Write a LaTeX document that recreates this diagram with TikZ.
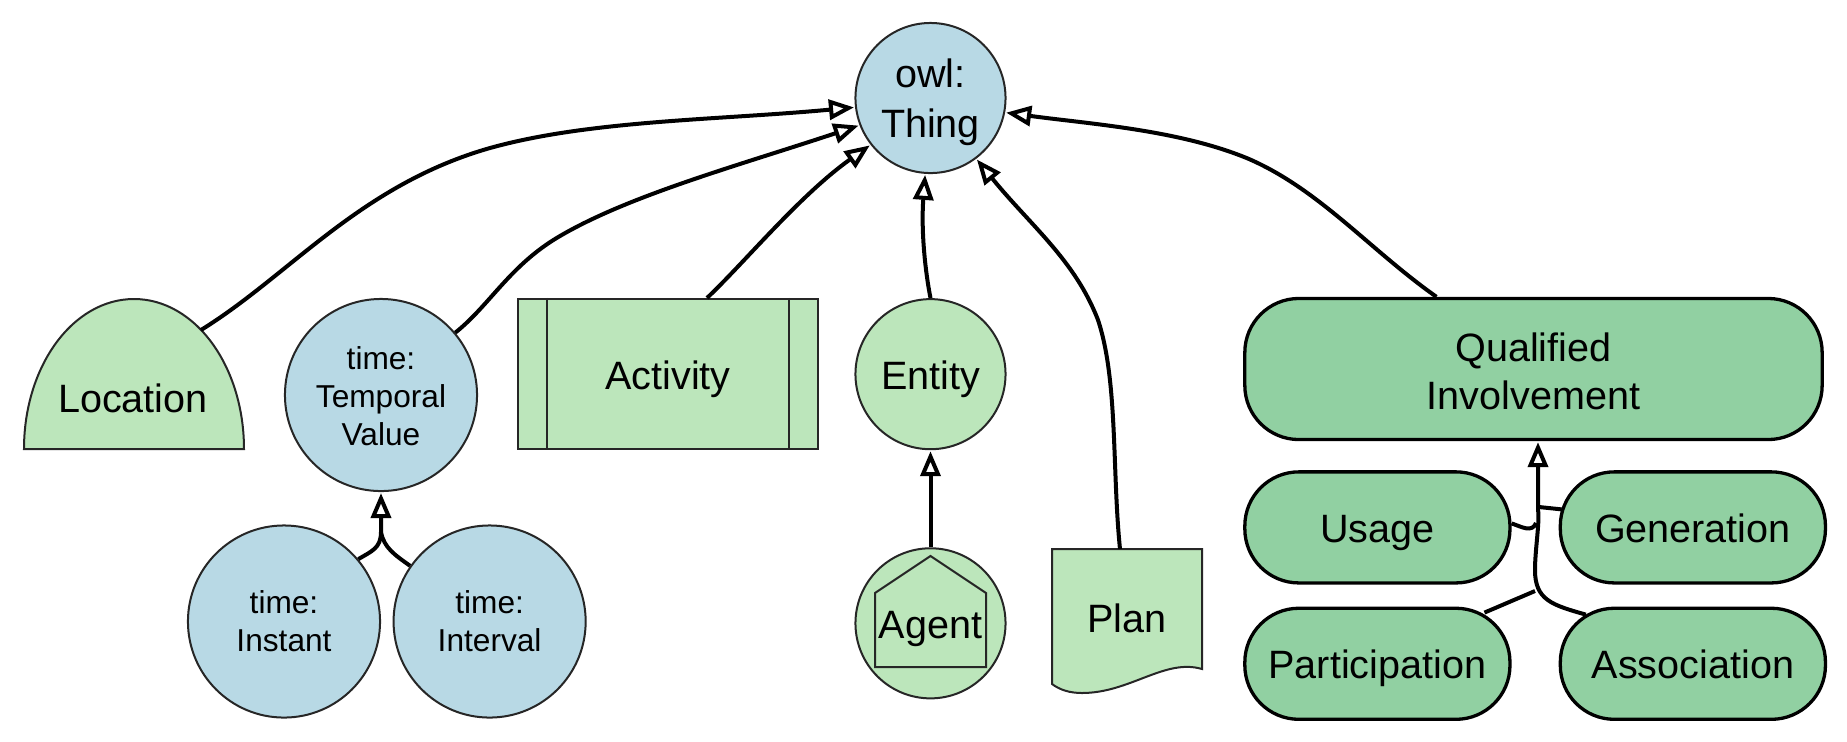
\documentclass[tikz,border=0pt]{standalone}
\usepackage{fontspec}
\setmainfont{Liberation Sans}
\usetikzlibrary{arrows.meta,positioning}
\definecolor{blueclass}{RGB}{184,217,229}
\definecolor{greenclass}{RGB}{188,230,187}
\definecolor{darkclass}{RGB}{145,208,162}

\begin{document}
\begin{tikzpicture}[
  x=0.01cm,
  y=-0.01cm,
  node distance=0.5cm,
  bigtext/.style={font=\fontsize{11.25}{13.5}\selectfont,align=center},
  smalltext/.style={font=\fontsize{9}{10.8}\selectfont,align=center},
  onetext/.style={text height=0.30cm,text depth=0cm},
  thinline/.style={draw=black!85,line width=0.02cm},
  bigcircle/.style={circle,thinline,bigtext,inner sep=0pt,minimum size=1.5cm},
  timecircle/.style={circle,thinline,smalltext,fill=blueclass,inner sep=0pt,minimum size=1.92cm},
  greenbox/.style={rectangle,thinline,bigtext,fill=greenclass},
  darkbox/.style={rectangle,draw=black,line width=0.033cm,rounded corners=0.54cm,bigtext,fill=darkclass,minimum width=2.65cm,minimum height=1.11cm,inner sep=0pt},
  arr/.style={-{Triangle[fill=white,length=0.25cm,width=0.2cm]},line width=0.04cm,shorten >=0.01cm},
  lin/.style={line width=0.04cm}
]
\useasboundingbox (0,0) rectangle (1847,741);

\node[bigcircle,fill=blueclass] (thing) at (930.5,98) {\rule{0pt}{0.37cm}owl:\\[0.03cm]Thing};

% shapes without a matching node shape
\draw[thinline,fill=greenclass] (24,449) .. controls (24,366) and (73,299) .. (134,299) .. controls (195,299) and (244,366) .. (244,449) -- cycle;
\node[bigtext] (location) at (133,398) {Location};
\coordinate (locationtop) at (201,330);

\draw[thinline,fill=greenclass] (1052,549) -- (1202,549) -- (1202,669) .. controls (1165,658) and (1130,693) .. (1082,693) .. controls (1070,693) and (1060,690) .. (1052,684) -- cycle;
\node[bigtext] (plan) at (1127,618) {Plan};
\coordinate (plantop) at (1120,549);

\node[timecircle] (temporal) at (381,395) {\rule{0pt}{0.26cm}time:\\Temporal\\Value};
\node[timecircle] (instant) at (284,621.5) {time:\\Instant};
\node[timecircle,right=0.115cm of instant] (interval) {time:\\Interval};
\coordinate (timejoin) at (381,532);

\node[greenbox,onetext,minimum width=3cm,minimum height=1.5cm] (activity) at (668,374) {Activity};
\draw[thinline] ([xshift=0.3cm]activity.north west) -- ([xshift=0.3cm]activity.south west);
\draw[thinline] ([xshift=-0.3cm]activity.north east) -- ([xshift=-0.3cm]activity.south east);

\node[bigcircle,onetext,fill=greenclass,below=1.24cm of thing] (entity) {Entity};
\node[bigcircle,onetext,fill=greenclass,below=0.97cm of entity] (agent) {Agent};
\draw[thinline] (875,593) -- (930.5,556) -- (986,593) -- (986,667) -- (875,667) -- cycle;

\node[darkbox,minimum width=5.77cm,minimum height=1.41cm] (qualified) at (1533.5,369) {\rule{0pt}{0.33cm}Qualified\\Involvement};
\node[darkbox,onetext,below=0.29cm of qualified.south west,anchor=north west] (usage) {Usage};
\node[darkbox,onetext,right=0.47cm of usage] (generation) {Generation};
\node[darkbox,onetext,below=0.22cm of usage] (participation) {Participation};
\node[darkbox,onetext,below=0.22cm of generation] (association) {Association};
\coordinate (trunkjoin) at (1538,510);

\draw[arr] (locationtop) .. controls (290,275) and (360,185) .. (490,148) .. controls (590,120) and (720,120) .. (thing.187);
\draw[arr] (temporal.40) .. controls (490,305) and (510,265) .. (560,236) .. controls (630,195) and (740,165) .. (thing.201);
\draw[arr] ([xshift=0.39cm]activity.north) .. controls (745,262) and (800,195) .. (thing.218);
\draw[arr] (entity.north) .. controls (925,270) and (921,230) .. (thing.266.5);
\draw[arr] (plantop) .. controls (1112,470) and (1118,380) .. (1098,320) .. controls (1075,260) and (1030,225) .. (thing.307);
\draw[arr] ([xshift=-0.97cm]qualified.north) .. controls (1370,250) and (1320,190) .. (1249,159) .. controls (1180,130) and (1090,124) .. (thing.349);
\draw[arr] (agent.north) -- (entity.south);

\draw[arr] (instant.40.6) .. controls (372,551) and (381,548) .. (timejoin) -- (temporal.south);
\draw[lin] (interval.145) .. controls (395,555) and (384,548) .. (timejoin);

\draw[arr] ([xshift=-1.07cm,yshift=-0.08cm]association.north) .. controls (1552,605) and (1535,600) .. (1535,570) .. controls (1535,550) and (1540,520) .. (trunkjoin) -- (qualified.south -| trunkjoin);
\draw[lin] ([yshift=0.04cm]usage.east) .. controls (1522,527) and (1532,533) .. (1536,523);
\draw[lin] ([xshift=0.03cm,yshift=0.18cm]generation.west) -- (1539,507);
\draw[lin] ([xshift=1.07cm,yshift=-0.06cm]participation.north) -- (1535,591);
\end{tikzpicture}
\end{document}
